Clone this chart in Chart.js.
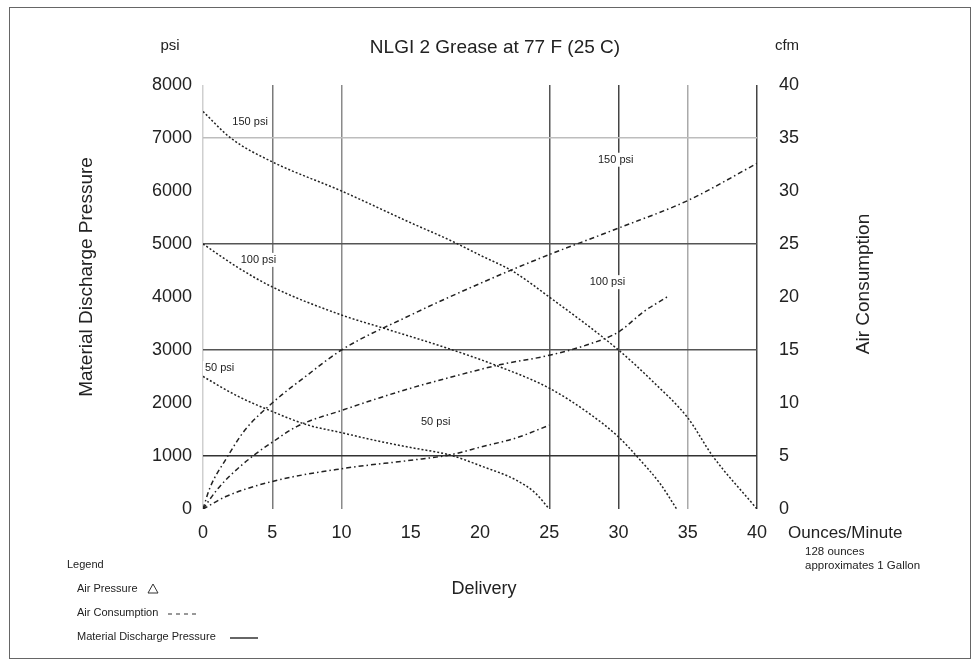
<!DOCTYPE html>
<html>
<head>
<meta charset="utf-8">
<script src="https://cdn.jsdelivr.net/npm/chart.js@4"></script>
<style>
  html, body { margin: 0; padding: 0; background: #fff; }
  canvas { display: block; }
</style>
</head>
<body>
<canvas id="chart" width="979" height="669"></canvas>
<script>
// Delivery (ounces/minute) vs discharge pressure (psi) — one curve per air pressure
const p150X = [0, 2, 5, 10, 15, 17.8, 20, 22.4, 25, 30, 32.5, 35, 36.8, 40];
const p150Y = [7500, 7000, 6550, 6000, 5400, 5075, 4790, 4480, 4000, 3000, 2400, 1720, 1000, 0];

const p100X = [0, 2.5, 5, 10, 13, 17.8, 21.4, 25, 28, 30, 31.3, 33, 34.2];
const p100Y = [5000, 4560, 4190, 3660, 3415, 3020, 2685, 2280, 1780, 1360, 1000, 480, 0];

const p50X = [0, 2.5, 5, 7.5, 10, 12.5, 15, 17.8, 20.2, 22.6, 24, 25];
const p50Y = [2500, 2130, 1840, 1590, 1440, 1290, 1160, 1020, 800, 547, 300, 0];

// Delivery vs air consumption (cfm)
const c150X = [0, 0.5, 1.7, 3, 5, 7.5, 10, 15, 17.8, 22, 25, 30, 35, 40];
const c150Y = [0, 2, 4.8, 7.4, 10, 12.6, 15, 18.3, 20, 22.4, 24, 26.5, 29.1, 32.6];

const c100X = [0, 1, 2, 3.6, 5, 6.8, 10, 15, 17.8, 21.4, 25, 28, 30, 31.8, 33.5];
const c100Y = [0, 1.8, 3.2, 5, 6.3, 7.8, 9.3, 11.4, 12.4, 13.6, 14.5, 15.6, 16.7, 18.6, 20];

const c50X = [0, 1.7, 5, 10, 15, 17.8, 20.2, 22.6, 25];
const c50Y = [0, 1.2, 2.6, 3.8, 4.6, 5.1, 5.9, 6.7, 7.9];

// curve labels: [text, delivery, psi]
const curveLabels = [
  ['150 psi', 3.4, 7300],
  ['100 psi', 4.0, 4700],
  ['50 psi', 1.2, 2660],
  ['150 psi', 29.8, 6590],
  ['100 psi', 29.2, 4280],
  ['50 psi', 16.8, 1640],
];

const xTicks = [0, 5, 10, 15, 20, 25, 30, 35, 40];
const psiTicks = [0, 1000, 2000, 3000, 4000, 5000, 6000, 7000, 8000];
const cfmTicks = [0, 5, 10, 15, 20, 25, 30, 35, 40];

// which grid lines show up, and how dark
const xGrid = { 0: '#cfcfcf', 5: '#7a7a7a', 10: '#8a8a8a', 25: '#555', 30: '#444', 35: '#aaa', 40: '#444' };
const yGrid = { 7000: '#bdbdbd', 5000: '#555', 3000: '#555', 1000: '#333' };

const FONT = '"Liberation Sans", Arial, sans-serif';
const PRESSURE_DASH = [2, 2];
const AIR_DASH = [5, 3, 1.5, 3];

function pts(xs, ys) {
  return xs.map((x, i) => ({ x, y: ys[i] }));
}

function curve(xs, ys, axis, dash) {
  return {
    data: pts(xs, ys),
    yAxisID: axis,
    showLine: true,
    borderColor: '#222',
    borderWidth: 1.5,
    borderDash: dash,
    pointRadius: 0,
    cubicInterpolationMode: 'monotone',
    fill: false,
  };
}

const plain = v => String(v);

const extras = {
  id: 'extras',
  afterDatasetsDraw(chart) {
    const ctx = chart.ctx;
    const xs = chart.scales.x, ys = chart.scales.y;
    ctx.save();

    // curve labels, white box breaks the grid lines like the original
    ctx.font = '11px ' + FONT;
    ctx.textAlign = 'center';
    ctx.textBaseline = 'middle';
    curveLabels.forEach(([t, dx, dy]) => {
      const px = xs.getPixelForValue(dx), py = ys.getPixelForValue(dy);
      const w = ctx.measureText(t).width;
      ctx.fillStyle = '#fff';
      ctx.fillRect(px - w / 2 - 2, py - 7, w + 4, 14);
      ctx.fillStyle = '#222';
      ctx.fillText(t, px, py);
    });

    const left = chart.chartArea.left, right = chart.chartArea.right;
    ctx.fillStyle = '#222';

    // headings
    ctx.font = '19px ' + FONT;
    ctx.fillText('NLGI 2 Grease at 77 F (25 C)', 495, 48);
    ctx.font = '15px ' + FONT;
    ctx.fillText('psi', left - 33, 46);
    ctx.fillText('cfm', right + 30, 46);

    // axis titles
    ctx.font = '19px ' + FONT;
    ctx.save();
    ctx.translate(87, 277);
    ctx.rotate(-Math.PI / 2);
    ctx.fillText('Material Discharge Pressure', 0, 0);
    ctx.restore();
    ctx.save();
    ctx.translate(864, 284);
    ctx.rotate(-Math.PI / 2);
    ctx.fillText('Air Consumption', 0, 0);
    ctx.restore();

    ctx.font = '18px ' + FONT;
    ctx.fillText('Delivery', 484, 589);

    ctx.textAlign = 'left';
    ctx.font = '17px ' + FONT;
    ctx.fillText('Ounces/Minute', 788, 533);
    ctx.font = '11.5px ' + FONT;
    ctx.fillText('128 ounces', 805, 552);
    ctx.fillText('approximates 1 Gallon', 805, 566);

    // legend
    ctx.font = '11px ' + FONT;
    ctx.fillText('Legend', 67, 565);
    ctx.fillText('Air Pressure', 77, 589);
    ctx.fillText('Air Consumption', 77, 613);
    ctx.fillText('Material Discharge Pressure', 77, 637);

    ctx.strokeStyle = '#333';
    ctx.lineWidth = 1;
    ctx.beginPath();
    ctx.moveTo(148, 593); ctx.lineTo(153, 584); ctx.lineTo(158, 593); ctx.closePath();
    ctx.stroke();
    ctx.setLineDash([4, 4]);
    ctx.beginPath(); ctx.moveTo(168, 614); ctx.lineTo(200, 614); ctx.stroke();
    ctx.setLineDash([]);
    ctx.lineWidth = 1.5;
    ctx.beginPath(); ctx.moveTo(230, 638); ctx.lineTo(258, 638); ctx.stroke();

    // page frame
    ctx.strokeStyle = '#666';
    ctx.lineWidth = 1;
    ctx.strokeRect(9.5, 7.5, 961, 651);
    ctx.restore();
  },
};

new Chart(document.getElementById('chart'), {
  type: 'scatter',
  data: {
    datasets: [
      curve(p150X, p150Y, 'y', PRESSURE_DASH),
      curve(p100X, p100Y, 'y', PRESSURE_DASH),
      curve(p50X, p50Y, 'y', PRESSURE_DASH),
      curve(c150X, c150Y, 'y1', AIR_DASH),
      curve(c100X, c100Y, 'y1', AIR_DASH),
      curve(c50X, c50Y, 'y1', AIR_DASH),
    ],
  },
  options: {
    responsive: false,
    animation: false,
    layout: { padding: { top: 85, left: 0, right: 0, bottom: 0 } },
    plugins: { legend: { display: false }, tooltip: { enabled: false } },
    scales: {
      x: {
        type: 'linear',
        min: 0, max: 40,
        afterBuildTicks: s => { s.ticks = xTicks.map(v => ({ value: v })); },
        afterFit: s => { s.height = 160; },
        ticks: { color: '#222', font: { family: FONT, size: 18 }, padding: 13, callback: plain },
        grid: {
          drawTicks: false,
          lineWidth: 1.5,
          color: c => xGrid[c.tick && c.tick.value] || 'rgba(0,0,0,0)',
        },
        border: { display: false },
      },
      y: {
        position: 'left',
        min: 0, max: 8000,
        afterBuildTicks: s => { s.ticks = psiTicks.map(v => ({ value: v })); },
        afterFit: s => { s.width = 203; },
        ticks: { color: '#222', font: { family: FONT, size: 18 }, padding: 11, callback: plain },
        grid: {
          drawTicks: false,
          lineWidth: 1.5,
          color: c => yGrid[c.tick && c.tick.value] || 'rgba(0,0,0,0)',
        },
        border: { display: false },
      },
      y1: {
        position: 'right',
        min: 0, max: 40,
        afterBuildTicks: s => { s.ticks = cfmTicks.map(v => ({ value: v })); },
        afterFit: s => { s.width = 222; },
        ticks: { color: '#222', font: { family: FONT, size: 18 }, padding: 14, callback: plain },
        grid: { display: false },
        border: { display: false },
      },
    },
  },
  plugins: [extras],
});
</script>
</body>
</html>
